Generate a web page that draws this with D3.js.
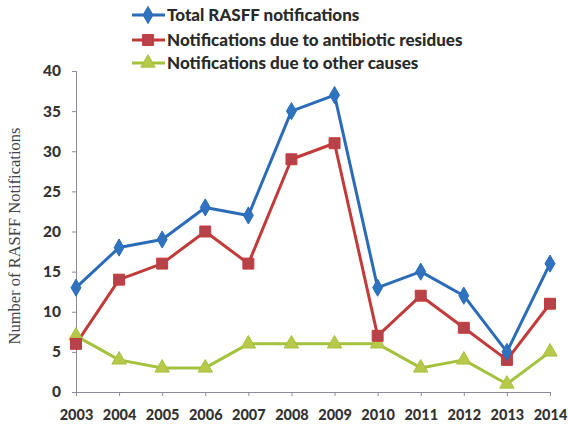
<!DOCTYPE html>
<html><head><meta charset="utf-8">
<script src="https://cdn.jsdelivr.net/npm/d3@7"></script>
<style>body{margin:0;background:#fff}</style>
</head><body>
<svg id="c" width="568" height="435"></svg>
<script>
const years = ["2003","2004","2005","2006","2007","2008","2009","2010","2011","2012","2013","2014"];
const totalRasff = [13,18,19,23,22,35,37,13,15,12,5,16];
const antibiotic = [6,14,16,20,16,29,31,7,12,8,4,11];
const otherCauses = [7,4,3,3,6,6,6,6,3,4,1,5];
const yTicks = [0,5,10,15,20,25,30,35,40];
const seriesNames = ["Total RASFF notifications","Notifications due to antibiotic residues","Notifications due to other causes"];

const series = [
  {name: seriesNames[0], values: totalRasff, color: "#2b6cb8", fill: "#2f72c0", marker: "diamond"},
  {name: seriesNames[1], values: antibiotic, color: "#c23b3b", fill: "#b8424a", marker: "square"},
  {name: seriesNames[2], values: otherCauses, color: "#a4c23e", fill: "#b8c94a", marker: "triangle"}
];

const svg = d3.select("#c");
const x = d3.scalePoint().domain(years).range([76, 550]);
const y = d3.scaleLinear().domain([0, 40]).range([392, 71]);

const font = "Lato, 'Open Sans', sans-serif";
// axes
const yAxis = svg.append("g").attr("transform", "translate(76,0)")
  .call(d3.axisLeft(y).tickValues(yTicks).tickSize(4).tickPadding(11));
yAxis.select(".domain").attr("stroke", "#8a8a9a");
yAxis.selectAll(".tick line").attr("stroke", "#8a8a9a");
yAxis.selectAll("text").attr("font-family", font).attr("font-weight", 900).attr("font-size", 15.5).attr("fill", "#333");

const xAxis = svg.append("g").attr("transform", "translate(0,392)")
  .call(d3.axisBottom(x).tickSize(4).tickSizeOuter(0).tickPadding(14));
xAxis.select(".domain").attr("stroke", "#8a8a9a");
xAxis.selectAll(".tick line").attr("stroke", "#8a8a9a");
xAxis.selectAll("text").attr("font-family", font).attr("font-weight", 900).attr("font-size", 14.5).attr("fill", "#333");

svg.append("text").attr("transform", "translate(20,236) rotate(-90)")
  .attr("text-anchor", "middle").attr("font-family", "'Liberation Serif', serif")
  .attr("font-size", 16.5).attr("fill", "#444").text("Number of RASFF Notifications");

const symbolOf = m => m === "diamond" ? d3.symbol().type(d3.symbolDiamond).size(85)
  : m === "square" ? d3.symbol().type(d3.symbolSquare).size(120)
  : d3.symbol().type(d3.symbolTriangle).size(90);

const line = d3.line().x((d,i) => x(years[i])).y(d => y(d));
series.slice().reverse().forEach(s => {
  svg.append("path").datum(s.values).attr("d", line).attr("fill", "none")
    .attr("stroke", s.color).attr("stroke-width", 3).attr("stroke-linejoin", "round");
});
series.slice().reverse().forEach(s => {
  svg.append("g").selectAll("path").data(s.values).join("path")
    .attr("transform", (d,i) => `translate(${x(years[i])},${y(d)})`)
    .attr("d", symbolOf(s.marker)()).attr("fill", s.fill).attr("stroke", s.color).attr("stroke-width", 1);
});

// legend
const legY = [15, 40, 63];
series.forEach((s, i) => {
  const g = svg.append("g").attr("transform", `translate(0,${legY[i]})`);
  g.append("line").attr("x1", 132).attr("x2", 165).attr("stroke", s.color).attr("stroke-width", 3);
  g.append("path").attr("transform", "translate(148,0)").attr("d", symbolOf(s.marker)())
    .attr("fill", s.fill).attr("stroke", s.color);
  g.append("text").attr("x", 167).attr("dy", "0.35em").attr("font-family", font)
    .attr("font-weight", 900).attr("font-size", 17).attr("fill", "#2a2a2a").text(s.name);
});
</script>
</body></html>
